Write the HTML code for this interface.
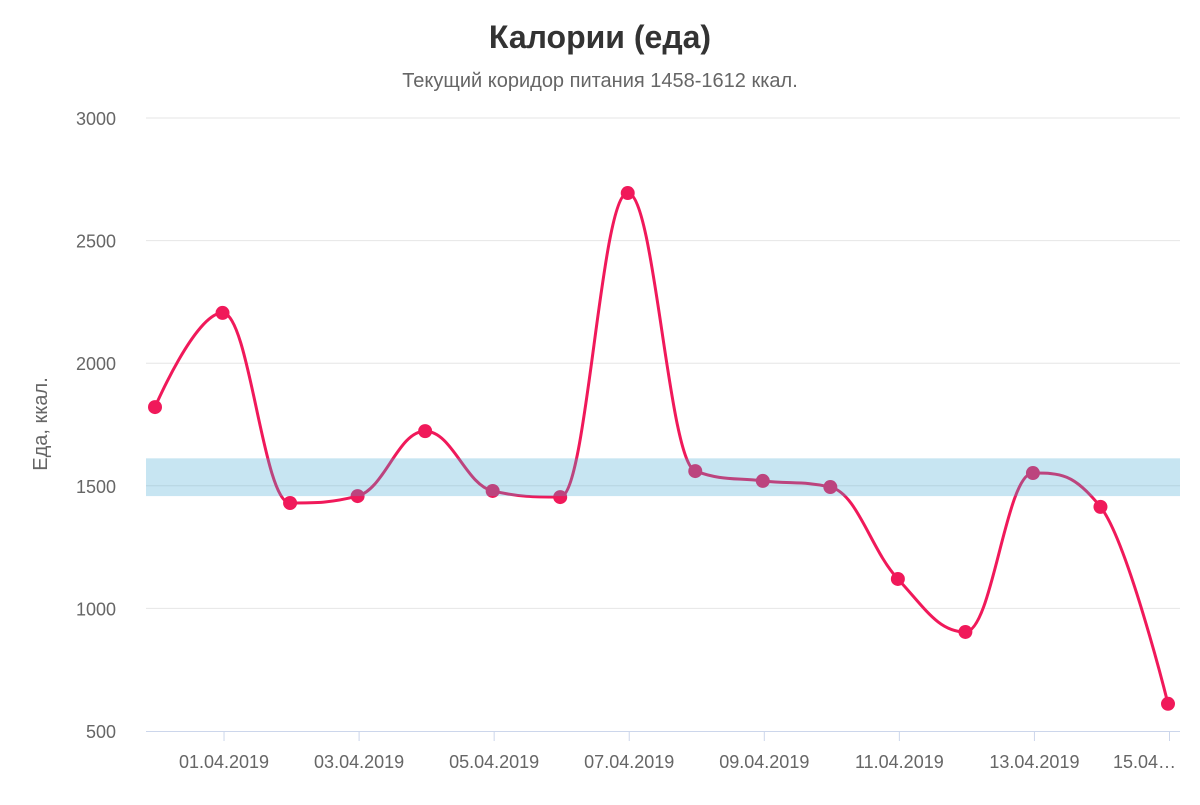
<!DOCTYPE html>
<html><head><meta charset="utf-8"><style>
body{margin:0;background:#fff;}
svg text{font-family:"Liberation Sans",sans-serif;}
</style></head><body>
<svg id="chart" width="1200" height="800">
<text x="600" y="48" text-anchor="middle" font-size="32" font-weight="bold" fill="#333">Калории (еда)</text>
<text x="600" y="87" text-anchor="middle" font-size="20" fill="#666">Текущий коридор питания 1458-1612 ккал.</text>
<text transform="translate(47,424) rotate(-90)" text-anchor="middle" font-size="20" fill="#666">Еда, ккал.</text>
<g id="grid"></g><g id="series"></g><g id="band"></g><g id="xaxis"></g>
</svg>
<script>
const categories=["31.03.2019","01.04.2019","02.04.2019","03.04.2019","04.04.2019","05.04.2019","06.04.2019","07.04.2019","08.04.2019","09.04.2019","10.04.2019","11.04.2019","12.04.2019","13.04.2019","14.04.2019","15.04.2019"];
const values=[1821,2205,1430,1458,1723,1479,1454,2694,1560,1520,1495,1120,904,1552,1414,611];
const yTicks=[500,1000,1500,2000,2500,3000];
const bandRange=[1458,1612];
const NS="http://www.w3.org/2000/svg";
const L=146,R=1180,T=118,B=731,yMin=500,yMax=3000;
const y=v=>B-(v-yMin)/(yMax-yMin)*(B-T);
const x0=155,x1=1168;
const x=i=>x0+i*(x1-x0)/(categories.length-1);
function mk(tag,attrs,parent,text){const e=document.createElementNS(NS,tag);for(const k in attrs)e.setAttribute(k,attrs[k]);if(text!==undefined)e.textContent=text;parent.appendChild(e);return e;}
const grid=document.getElementById('grid'),ser=document.getElementById('series'),band=document.getElementById('band'),xa=document.getElementById('xaxis');
yTicks.forEach(t=>{
 if(t!==yMin){const g=mk('line',{x1:L,x2:R,y1:y(t),y2:y(t),stroke:'#e6e6e6','stroke-width':1},grid);
 
 }
 const lb=mk('text',{x:116,y:y(t)+7,'text-anchor':'end','font-size':18,fill:'#666'},grid,String(t));
 
 
});
// spline (Highcharts style)
const pts=values.map((v,i)=>({x:x(i),y:y(v)}));
let d='M'+pts[0].x+','+pts[0].y;
const cont=pts.map((p,i)=>{
 if(i===0||i===pts.length-1)return null;
 const a=pts[i-1],n=pts[i+1],s=1.5,dn=2.5;
 let lx=(s*p.x+a.x)/dn,ly=(s*p.y+a.y)/dn,rx=(s*p.x+n.x)/dn,ry=(s*p.y+n.y)/dn;
 if(rx!==lx){const c=((ry-ly)*(rx-p.x))/(rx-lx)+p.y-ry;ly+=c;ry+=c;}
 if(ly>a.y&&ly>p.y){ly=Math.max(a.y,p.y);ry=2*p.y-ly;}else if(ly<a.y&&ly<p.y){ly=Math.min(a.y,p.y);ry=2*p.y-ly;}
 if(ry>n.y&&ry>p.y){ry=Math.max(n.y,p.y);ly=2*p.y-ry;}else if(ry<n.y&&ry<p.y){ry=Math.min(n.y,p.y);ly=2*p.y-ry;}
 return {lx,ly,rx,ry};
});
for(let i=1;i<pts.length;i++){
 const a=pts[i-1],p=pts[i];
 const r=cont[i-1]?[cont[i-1].rx,cont[i-1].ry]:[a.x,a.y];
 const l=cont[i]?[cont[i].lx,cont[i].ly]:[p.x,p.y];
 d+=' C'+r[0]+','+r[1]+' '+l[0]+','+l[1]+' '+p.x+','+p.y;
}
const line=mk('path',{d:d,fill:'none',stroke:'#f0195a','stroke-width':3},ser);


values.forEach((v,i)=>{
 const c=mk('circle',{cx:x(i),cy:y(v),r:7,fill:'#f0195a'},ser);
 
 
});
const br=mk('rect',{x:L,y:y(bandRange[1]),width:R-L,height:y(bandRange[0])-y(bandRange[1]),fill:'rgba(68,170,213,0.3)'},band);


const ax=mk('line',{x1:L,x2:R,y1:B+0.5,y2:B+0.5,stroke:'#ccd6eb','stroke-width':1},xa);


categories.forEach((c,i)=>{
 if(i%2===1){
  const tk=mk('line',{x1:x(i)+1.5,x2:x(i)+1.5,y1:B,y2:B+10,stroke:'#ccd6eb'},xa);
  
  
  const lab=i===categories.length-1?c.slice(0,5)+'…':c;
  const t=mk('text',{x:x(i)+1.5,y:768,'text-anchor':i===categories.length-1?'end':'middle','font-size':18,fill:'#666'},xa,lab);
  if(i===categories.length-1)t.setAttribute('x',1176);
  
  
 }
});
</script>
</body></html>
